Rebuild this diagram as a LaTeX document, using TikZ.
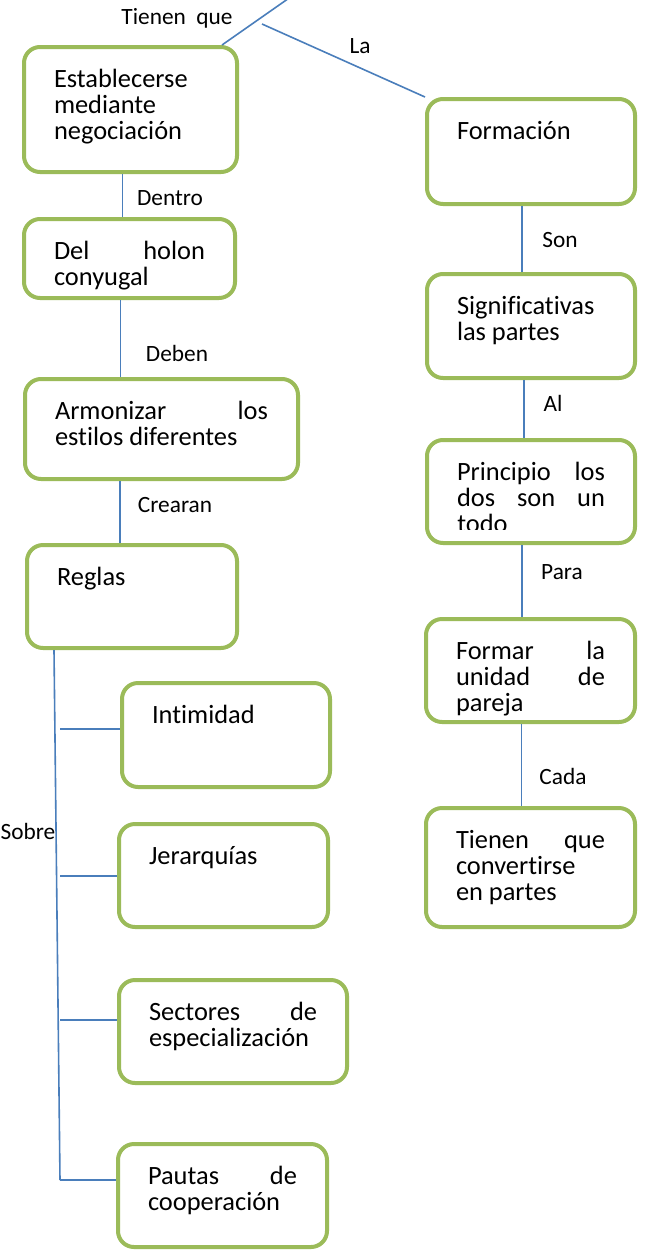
\documentclass[tikz,border=0pt]{standalone}
\usepackage{fontspec}
\setmainfont{Carlito}[Ligatures=NoCommon]

\newdimen\pix
\pix=0.75pt

\definecolor{boxgreen}{HTML}{9BBB59}
\definecolor{linkblue}{HTML}{4A7EBB}

\tikzset{
    idea/.style = {
        draw=boxgreen,
        line width=4\pix,
        rounded corners=16\pix,
        fill=white,
        anchor=north west,
        inner xsep=30\pix,
        inner ysep=22\pix,
        font=\fontsize{19.8}{19.5}\selectfont
    },
    connect/.style = {
        linkblue,
        line width=1.6\pix
    },
    word/.style = {
        inner sep=0pt,
        font=\fontsize{17.5}{20}\selectfont
    }
}

\begin{document}
\begin{tikzpicture}[x=0.75pt, y=-0.75pt]
    \useasboundingbox (0,0) rectangle (645,1250);

    % Left column
    \node[idea] (establecer) at (22,45)  {\parbox[t][81\pix][t]{153\pix}{Establecerse\\mediante\\negociación}};
    \node[idea] (holon)      at (22,217) {\parbox[t][35\pix][t]{151\pix}{Del \hfill holon\\conyugal}};
    \node[idea] (armonizar)  at (23,377) {\parbox[t][56\pix][t]{213\pix}{Armonizar \hfill los\\estilos diferentes}};
    \node[idea] (reglas)     at (25,543) {\parbox[t][59\pix][t]{150\pix}{Reglas}};

    \node[idea] (intimidad)  at (120,681)  {\parbox[t][60\pix][t]{148\pix}{Intimidad}};
    \node[idea] (jerarquias) at (117,822)  {\parbox[t][59\pix][t]{149\pix}{Jerarquías}};
    \node[idea] (sectores)   at (117,978)  {\parbox[t][59\pix][t]{168\pix}{Sectores \hfill de\\especialización}};
    \node[idea] (pautas)     at (116,1142) {\parbox[t][59\pix][t]{149\pix}{Pautas \hfill de\\cooperación}};

    % Right column
    \node[idea] (formacion)      at (425,97)  {\parbox[t][61\pix][t]{148\pix}{Formación}};
    \node[idea] (significativas) at (425,272) {\parbox[t][60\pix][t]{148\pix}{Significativas\\las partes}};
    \node[idea] (principio)      at (425,438) {\parbox[t][59\pix][t]{148\pix}{Principio \hfill los\\dos \hfill son \hfill un}};
    \node[idea] (formar)         at (424,617) {\parbox[t][59\pix][t]{149\pix}{Formar \hfill la\\unidad \hfill de\\pareja}};
    \node[idea] (convertirse)    at (424,806) {\parbox[t][75\pix][t]{149\pix}{Tienen \hfill que\\convertirse\\en partes}};

    % cut off last line of the box
    \begin{scope}
        \clip (principio.north west) rectangle ([yshift=16\pix]principio.south east);
        \node[anchor=base west, inner sep=0pt, font=\fontsize{19.8}{19.5}\selectfont] (todo) at ([shift={(32,52)}]principio.base west) {todo};
    \end{scope}

    % Draw links
    \coordinate (root) at (292,-4);
    \coordinate (split) at (262,24);
    \draw[connect] ([xshift=-17\pix]establecer.north east) -- (root);
    \draw[connect] (split) -- (formacion.north west);

    \draw[connect] ([xshift=-8\pix]establecer.south) -- ([xshift=-8\pix]establecer.south |- holon.north);
    \draw[connect] ([xshift=-9\pix]holon.south) -- ([xshift=-9\pix]holon.south |- armonizar.north);
    \draw[connect] ([xshift=-12\pix]reglas.north) -- ([xshift=-12\pix]reglas.north |- armonizar.south);

    \draw[connect] ([xshift=-9\pix]formacion.south) -- ([xshift=-9\pix]formacion.south |- significativas.north);
    \draw[connect] ([xshift=-7\pix]significativas.south) -- ([xshift=-7\pix]significativas.south |- principio.north);
    \draw[connect] ([xshift=-9\pix]principio.south) -- ([xshift=-9\pix]principio.south |- formar.north);
    \draw[connect] ([xshift=-9\pix]formar.south) -- ([xshift=-9\pix]formar.south |- convertirse.north);

    % Draw tree under Reglas
    \coordinate (trunk) at (60,1180);
    \draw[connect] ([xshift=29\pix]reglas.south west) -- (trunk);
    \foreach \kid/\y in {intimidad/729, jerarquias/876, sectores/1020, pautas/1180}{
        \coordinate (fork) at (60,\y);
        \draw[connect] (fork) -- (fork -| \kid.west);
    }

    % Draw labels
    \node[word] (tienen)  at (177,18)  {Tienen\ \ que};
    \node[word] (la)      at (360,46)  {La};
    \node[word] (dentro)  at (170,198) {Dentro};
    \node[word] (deben)   at (177,353) {Deben};
    \node[word] (crearan) at (175,505) {Crearan};
    \node[word] (sobre)   at (28,831)  {Sobre};
    \node[word] (son)     at (560,240) {Son};
    \node[word] (al)      at (553,403) {Al};
    \node[word] (para)    at (562,572) {Para};
    \node[word] (cada)    at (563,776) {Cada};
\end{tikzpicture}
\end{document}
